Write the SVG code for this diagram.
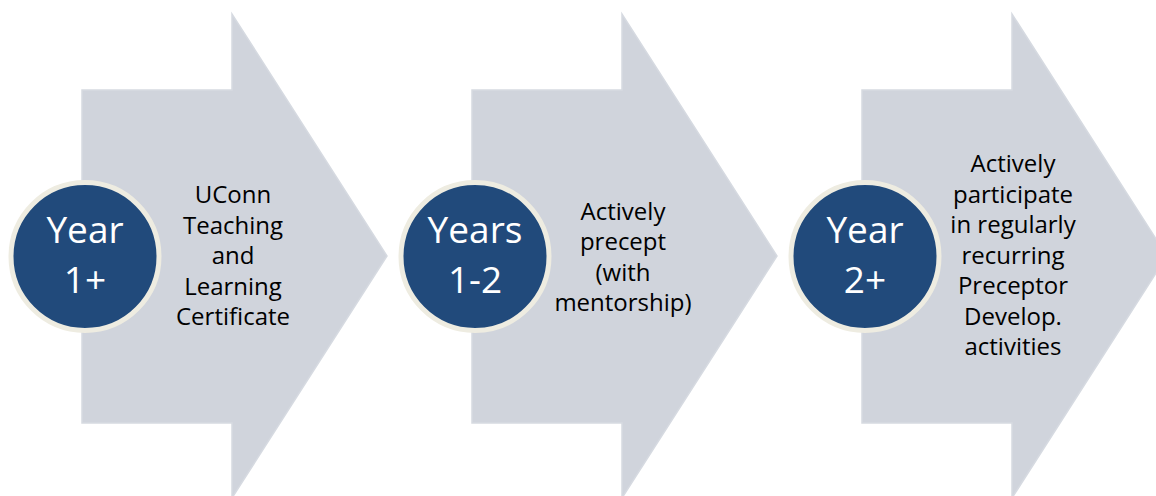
<svg xmlns="http://www.w3.org/2000/svg" width="1156" height="496" viewBox="0 0 1156 496">
<style>
.arrow{fill:#d0d4dc;stroke:#d6dae1;stroke-width:1.5}
.badge{fill:#214a7b;stroke:#eeece1;stroke-width:5}
.bt{font-family:"Open Sans","Liberation Sans",sans-serif;font-size:37px;fill:#ffffff;text-anchor:middle}
.lt{font-family:"Open Sans","Liberation Sans",sans-serif;font-size:24px;fill:#000000;text-anchor:middle}
</style>
<rect width="1156" height="496" fill="#ffffff"/>
<g id="connectors"></g>
<g id="step1">
<polygon class="arrow" points="82,90 232,90 232,14 387,256 232,498 232,423 82,423"/>
<circle class="badge" cx="85" cy="256.5" r="74"/>
<text class="bt" x="85" y="243">Year</text>
<text class="bt" x="85" y="293">1+</text>
<text class="lt"><tspan x="233" y="203">UConn</tspan><tspan x="233" y="233.5">Teaching</tspan><tspan x="233" y="264">and</tspan><tspan x="233" y="294.5">Learning</tspan><tspan x="233" y="325">Certificate</tspan></text>
</g>
<g id="step2">
<polygon class="arrow" points="472,90 622,90 622,14 777,256 622,498 622,423 472,423"/>
<circle class="badge" cx="475" cy="256.5" r="74"/>
<text class="bt" x="475" y="243">Years</text>
<text class="bt" x="475" y="293">1-2</text>
<text class="lt"><tspan x="623" y="219.5">Actively</tspan><tspan x="623" y="250">precept</tspan><tspan x="623" y="280.5">(with</tspan><tspan x="623" y="311">mentorship)</tspan></text>
</g>
<g id="step3">
<polygon class="arrow" points="862,90 1012,90 1012,14 1167,256 1012,498 1012,423 862,423"/>
<circle class="badge" cx="865" cy="256.5" r="74"/>
<text class="bt" x="865" y="243">Year</text>
<text class="bt" x="865" y="293">2+</text>
<text class="lt"><tspan x="1013" y="172">Actively</tspan><tspan x="1013" y="202.5">participate</tspan><tspan x="1013" y="233">in regularly</tspan><tspan x="1013" y="263.5">recurring</tspan><tspan x="1013" y="294">Preceptor</tspan><tspan x="1013" y="324.5">Develop.</tspan><tspan x="1013" y="355">activities</tspan></text>
</g>
</svg>
